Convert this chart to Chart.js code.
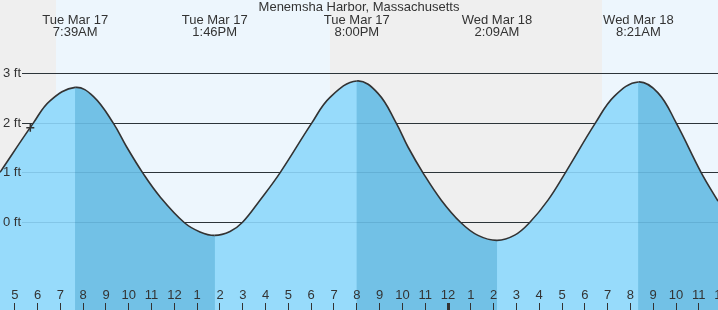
<!DOCTYPE html>
<html>
<head>
<meta charset="utf-8">
<script src="https://cdn.jsdelivr.net/npm/chart.js@4/dist/chart.umd.min.js"></script>
<style>
  html,body{margin:0;padding:0;background:#fff;}
  #wrap{width:718px;height:310px;background:#efefef;}
  canvas{display:block;}
</style>
</head>
<body>
<div id="wrap"><canvas id="tide" width="718" height="310"></canvas></div>
<script>
/* ---------- datos (horas desde Tue Mar 17 00:00, pies) ---------- */
const TITLE = 'Menemsha Harbor, Massachusetts';
const X_MIN = 4.351, X_MAX = 35.842;     // ~4:21AM Tue -> ~11:50AM Wed
const Y_MIN = -1.762, Y_MAX = 4.48;      // ft

// curva de marea
const TIDE_HOURS = [4.351, 5.81, 6.544, 7.65, 8.443, 9.32, 9.908, 10.61, 11.368,
                    12.43, 13.123, 13.767, 14.439, 14.978, 15.754, 16.632, 18.022, 18.825,
                    20.0, 20.93, 21.73, 22.246, 22.904, 23.706, 24.557, 25.316, 26.15, 26.925,
                    27.583, 28.386, 29.145, 30.461, 31.311, 32.35, 33.211, 34.013, 35.11, 35.842];
const TIDE_FEET  = [1.01, 2.0, 2.45, 2.72, 2.54, 2.0, 1.52, 1.0, 0.52,
                    0.0, -0.19, -0.26, -0.18, 0.0, 0.45, 1.0, 2.0, 2.52,
                    2.85, 2.6, 2.0, 1.52, 1.0, 0.45, 0.0, -0.26, -0.36, -0.255,
                    0.0, 0.45, 1.0, 2.0, 2.55, 2.83, 2.61, 2.0, 1.0, 0.43];

// pleamar / bajamar
const EXTREME_HOURS  = [7.65, 13.767, 20.0, 26.15, 32.35];
const EXTREME_LABELS = [['Tue Mar 17','7:39AM'], ['Tue Mar 17','1:46PM'], ['Tue Mar 17','8:00PM'],
                        ['Wed Mar 18','2:09AM'], ['Wed Mar 18','8:21AM']];

// luz de dia
const SUNRISE = [6.807, 30.75];
const SUNSET  = [18.82, 35.842];

// hora actual
const NOW_HOUR = 5.68, NOW_FEET = 1.91;

// eje inferior
const HOUR_TICKS  = [5,6,7,8,9,10,11,12,13,14,15,16,17,18,19,20,21,22,23,24,
                     25,26,27,28,29,30,31,32,33,34,35,36];
const HOUR_LABELS = ['5','6','7','8','9','10','11','12','1','2','3','4','5','6','7','8','9','10','11','12',
                     '1','2','3','4','5','6','7','8','9','10','11','12'];
const FT_TICKS = [0,1,2,3];

/* ---------- estilos ---------- */
const INK  = '#333';
const RISE = '#97dbfb';
const FALL = '#72c1e6';
const DAY  = '#edf6fd';

Chart.defaults.font.family = '"Liberation Sans", Arial, sans-serif';
Chart.defaults.font.size = 13;
Chart.defaults.color = INK;

const tideData = TIDE_HOURS.map((h,i)=>({x:h, y:TIDE_FEET[i]}));
const dayData = [];
SUNRISE.forEach((r,i)=>{
  dayData.push({x:r, y:Y_MAX}, {x:SUNSET[i], y:Y_MAX}, {x:SUNSET[i], y:null});
});

const flat = s => { s.paddingLeft = s.paddingRight = s.paddingTop = s.paddingBottom = 0; };

/* lineas de 0..3 ft: oscuras bajo la marea, tenues encima */
const ftLines = {
  id:'ftLines',
  afterDatasetDraw(chart, args){
    if(args.index !== 0 && args.index !== 2) return;
    const {ctx, chartArea, scales:{y}} = chart;
    ctx.save();
    ctx.strokeStyle = args.index === 0 ? INK : 'rgba(0,60,100,0.13)';
    ctx.lineWidth = 1;
    FT_TICKS.forEach(v=>{
      const py = Math.floor(y.getPixelForValue(v)) + 0.5;
      ctx.beginPath(); ctx.moveTo(22, py); ctx.lineTo(chartArea.right, py); ctx.stroke();
    });
    ctx.restore();
  }
};

const curve = { tension:0.4, cubicInterpolationMode:'default', pointRadius:0 };

new Chart(document.getElementById('tide'), {
  type:'line',
  data:{ datasets:[
    { label:'day', data:dayData, order:4, fill:'start', spanGaps:false,
      backgroundColor:DAY, borderColor:'transparent', borderWidth:0, pointRadius:0 },
    // bajante (base, toda la curva)
    { label:'ebb', data:tideData, order:3, fill:'start', ...curve,
      backgroundColor:FALL, borderColor:'transparent', borderWidth:0 },
    // creciente encima + trazo
    { label:'tide', data:tideData, order:2, fill:'start', ...curve,
      borderColor:INK, borderWidth:1.6, backgroundColor:RISE,
      segment:{ backgroundColor: c => c.p1.parsed.y >= c.p0.parsed.y ? RISE : 'transparent' } },
    { label:'now', data:[{x:NOW_HOUR, y:NOW_FEET}], order:1, showLine:false,
      pointStyle:'cross', pointRadius:4, pointBorderWidth:1.5, borderColor:INK }
  ]},
  options:{
    responsive:false, animation:false, devicePixelRatio:1,
    layout:{padding:0, autoPadding:false},
    plugins:{ legend:{display:false}, tooltip:{enabled:false} },
    scales:{
      x:{ type:'linear', position:'bottom', min:X_MIN, max:X_MAX,
          afterFit(s){ s.height = 0; flat(s); },
          afterBuildTicks(s){ s.ticks = HOUR_TICKS.map(v=>({value:v})); },
          border:{display:false},
          grid:{ drawOnChartArea:false, drawTicks:true, tickLength:-7, color:INK, z:1,
                 lineWidth: c => c.tick && c.tick.value === 24 ? 3 : 1 },
          ticks:{ mirror:true, padding:7.5, autoSkip:false, maxRotation:0, z:1,
                  font:{size:13, lineHeight:'14px'},
                  callback:(v,i)=>HOUR_LABELS[i] } },
      x2:{ type:'linear', position:'top', min:X_MIN, max:X_MAX,
          afterFit(s){ s.height = 0; flat(s); },
          afterBuildTicks(s){ s.ticks = EXTREME_HOURS.map(v=>({value:v})); },
          border:{display:false}, grid:{display:false},
          ticks:{ mirror:true, padding:2, autoSkip:false, maxRotation:0, z:1,
                  font:{size:13, lineHeight:'12px'},
                  callback:(v,i)=>EXTREME_LABELS[i] } },
      // titulo centrado como un unico tick arriba
      x3:{ type:'linear', position:'top', min:X_MIN, max:X_MAX,
          afterFit(s){ s.height = 0; flat(s); },
          afterBuildTicks(s){ s.ticks = [{value:(X_MIN + X_MAX) / 2}]; },
          border:{display:false}, grid:{display:false},
          ticks:{ mirror:true, padding:0, autoSkip:false, maxRotation:0, z:1,
                  font:{size:13, lineHeight:'14px'},
                  callback:()=>TITLE } },
      y:{ type:'linear', position:'left', min:Y_MIN, max:Y_MAX,
          afterFit(s){ s.width = 0; flat(s); },
          afterBuildTicks(s){ s.ticks = FT_TICKS.map(v=>({value:v})); },
          border:{display:false}, grid:{display:false},
          ticks:{ mirror:true, padding:3, z:1, callback:v=>v+' ft' } }
    }
  },
  plugins:[ftLines]
});
</script>
</body>
</html>
